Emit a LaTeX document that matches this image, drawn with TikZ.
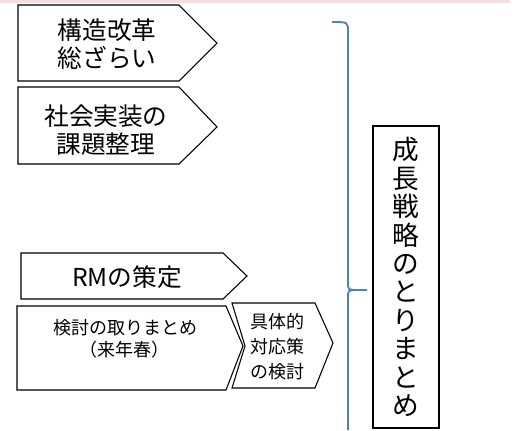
\documentclass[tikz,border=0pt]{standalone}
\usepackage{fontspec}
\setmainfont{Noto Sans CJK JP}
\usepackage[HTML]{xcolor}
\usetikzlibrary{positioning}
\definecolor{braceblue}{HTML}{4F81BD}
\definecolor{topband}{HTML}{F6DEDE}

\begin{document}
\begin{tikzpicture}[x=0.75pt, y=-0.75pt,
    stepshape/.style={draw=black, line width=0.8pt, fill=white},
    bigtext/.style={align=center, inner sep=0pt, font=\fontsize{18.5}{21}\selectfont},
    smalltext/.style={align=center, inner sep=0pt, font=\fontsize{13.5}{16.5}\selectfont},
    bracket/.style={draw=braceblue, line width=1.4pt}]

    \useasboundingbox (0,0) rectangle (518,430);
    \fill[topband] (0,0) rectangle (510,3);

    % 1. Arrow shapes
    \draw[stepshape] (18,5) -- (179,5) -- (217,43) -- (179,81) -- (18,81) -- cycle;
    \draw[stepshape] (18,87) -- (179,87) -- (217,127) -- (179,164) -- (18,164) -- cycle;
    \draw[stepshape] (21,253) -- (223,253) -- (247,276) -- (223,299) -- (21,299) -- cycle;
    \draw[stepshape] (17,306) -- (226,306) -- (243,346) -- (226,390) -- (17,390) -- cycle;
    \draw[stepshape] (232,303) -- (315,303) -- (333,343) -- (315,388) -- (232,388) -- (245,346) -- cycle;

    % 2. Labels
    \node[bigtext] (reform) at (107,44) {構造改革\\総ざらい};
    \node[bigtext] (issues) at (106,130) {社会実装の\\課題整理};
    \node[bigtext] (rm) at (127,277) {RMの策定};
    \node[smalltext] (summary) at (125,339) {検討の取りまとめ\\（来年春）};
    \node[smalltext, font=\fontsize{13.5}{18.7}\selectfont] (measures) at (277,347) {具体的\\対応策\\の検討};

    % 3. Brace
    \coordinate (bracetop) at (332,22);
    \coordinate (bracetip) at (367,290);
    \coordinate (bracebottom) at (348,430);
    \draw[bracket] (bracetop) .. controls (348,22) .. (348,32) -- (348,282)
        .. controls (348,290) .. (358,290) -- (bracetip);
    \draw[bracket] (358,290) .. controls (348,290) .. (348,298) -- (bracebottom);

    % 4. Result box
    \node[draw, line width=0.8pt, minimum width=49.5pt, minimum height=226.5pt,
          align=center, inner sep=0pt, font=\fontsize{20}{21.3}\selectfont]
        (strategy) at (406,277) {成\\長\\戦\\略\\の\\と\\り\\ま\\と\\め};

\end{tikzpicture}
\end{document}
